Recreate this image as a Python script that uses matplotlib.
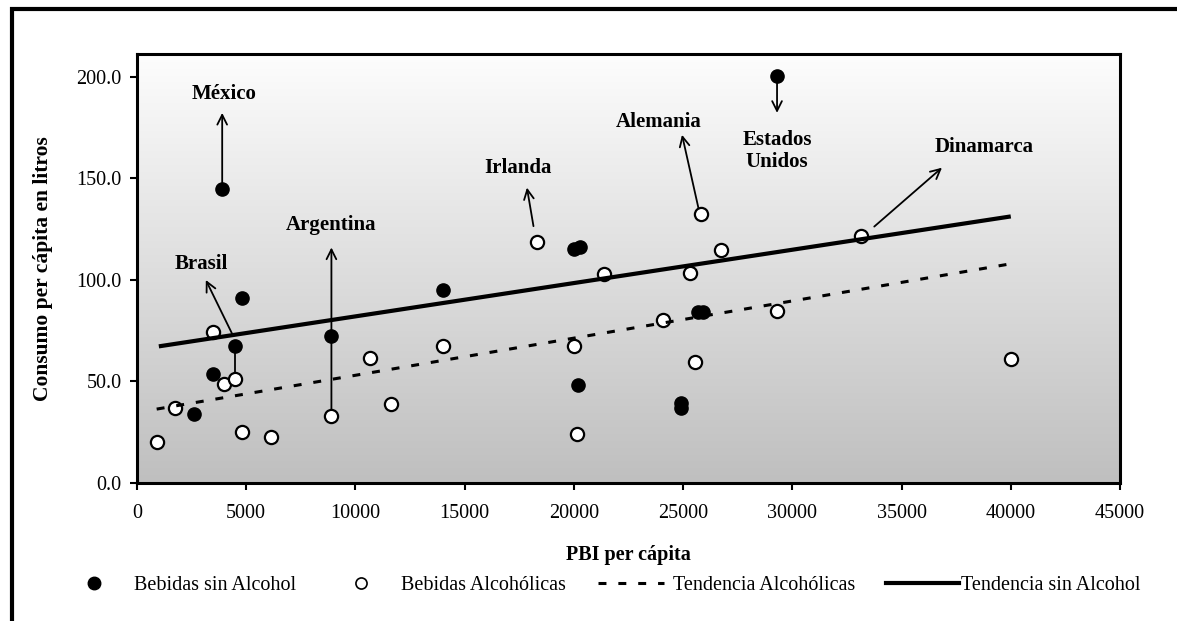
import numpy as np
import matplotlib
matplotlib.use("Agg")
import matplotlib.pyplot as plt
from matplotlib.lines import Line2D
from matplotlib.patches import Rectangle

plt.rcParams['font.family'] = ['Liberation Serif', 'DejaVu Serif']

# Bebidas sin alcohol (PBI per cápita, litros per cápita)
sin_pbi = [2600, 3500, 3900, 4500, 4800, 8900, 14000, 20000, 20300, 20200,
           24900, 24900, 25700, 25900, 29300]
sin_consumo = [34, 53.5, 145, 67.5, 91, 72.5, 95, 115.5, 116, 48.5,
               39.5, 37, 84, 84, 200.5]

# Bebidas alcohólicas
alc_pbi = [900, 1750, 3500, 4000, 4500, 4800, 6150, 8900, 10650, 11650, 14000,
           18300, 20000, 20150, 21400, 24100, 25300, 25550, 25800, 26750, 29300,
           33150, 40000]
alc_consumo = [20.3, 37, 74.4, 48.6, 51.4, 25.2, 22.7, 33.1, 61.6, 38.8, 67.3,
               118.6, 67.3, 24.1, 102.7, 80.1, 103.5, 59.6, 132.5, 114.8, 84.5,
               121.5, 61]

# tendencias lineales (extremos)
tend_sin_pbi = [1000, 40000]
tend_sin = [67.3, 131.3]
tend_alc_pbi = [900, 39800]
tend_alc = [36.4, 107.6]

# países señalados: etiqueta, posición del texto, origen y punta de la flecha
paises = ['México', 'Brasil', 'Argentina', 'Irlanda', 'Alemania',
          'Estados\nUnidos', 'Dinamarca']
texto_xy = [(4000, 191.5), (2950, 108), (8900, 127.3), (17450, 155.3),
            (23900, 178), (29300, 163.5), (38800, 165.5)]
flecha_desde = [(3900, 148), (4400, 72.5), (8900, 36), (18150, 126.5),
                (25700, 135.5), (29300, 198), (33750, 126.3)]
flecha_hasta = [(3900, 182.3), (3150, 100), (8900, 116), (17850, 145.5),
                (24950, 171.5), (29300, 182.3), (36850, 155.3)]

fig = plt.figure(figsize=(11.77, 6.21), dpi=100)
ax = fig.add_axes([137 / 1177, 138 / 621, 983 / 1177, 429 / 621])

ax.set_xlim(0, 45000)
ax.set_ylim(0, 211.3)

# fondo degradado blanco -> gris
grad = np.linspace(0, 1, 256).reshape(-1, 1)
ax.imshow(grad, extent=[0, 45000, 0, 211.3], aspect='auto', origin='upper',
          cmap=matplotlib.colors.LinearSegmentedColormap.from_list(
              'g', ['#fdfdfd', '#bfbfbf']), zorder=0)

ax.plot(alc_pbi, alc_consumo, 'o', ms=9.5, mfc='white', mec='black', mew=1.6,
        zorder=3)
ax.plot(sin_pbi, sin_consumo, 'o', ms=9.5, mfc='black', mec='black', zorder=3)

ax.plot(tend_alc_pbi, tend_alc, color='black', lw=2.2,
        linestyle=(0, (2.6, 3.9)), zorder=4)
ax.plot(tend_sin_pbi, tend_sin, color='black', lw=3, solid_capstyle='butt',
        zorder=4)

# Brasil: une los dos puntos del mismo país
ax.plot([sin_pbi[3], alc_pbi[4]], [sin_consumo[3], alc_consumo[4]],
        color='black', lw=1.3, zorder=2)

for nombre, txy, desde, hasta in zip(paises, texto_xy, flecha_desde, flecha_hasta):
    ax.annotate('', xy=hasta, xytext=desde,
                arrowprops=dict(arrowstyle='->,head_length=0.7,head_width=0.35',
                                color='black', lw=1.3, shrinkA=0, shrinkB=0),
                zorder=5)
    ax.text(txy[0], txy[1], nombre, ha='center', va='center', fontsize=15,
            fontweight='bold', linespacing=1.1)

ax.set_xticks(np.arange(0, 45001, 5000))
ax.set_yticks(np.arange(0, 201, 50))
ax.set_yticklabels([f'{v:.1f}' for v in np.arange(0, 201, 50)])
ax.tick_params(axis='both', direction='out', length=5, width=1.5,
               labelsize=14.5)
ax.tick_params(axis='x', pad=10)
ax.tick_params(axis='y', pad=6)
for s in ax.spines.values():
    s.set_linewidth(2.2)

ax.set_xlabel('PBI per cápita', fontsize=14.5, fontweight='bold', va='center')
ax.xaxis.set_label_coords(0.5, -0.168)
ax.set_ylabel('Consumo per cápita en litros', fontsize=15.5, fontweight='bold',
              va='center')
ax.yaxis.set_label_coords(-0.0956, 0.5)

# leyenda en una fila, cada entrada por separado
ley_y = 36 / 621
entradas = [
    (Line2D([], [], marker='o', ls='none', ms=9, mfc='black', mec='black'),
     'Bebidas sin Alcohol', 84, 1.0, 1.5),
    (Line2D([], [], marker='o', ls='none', ms=8, mfc='none', mec='black', mew=1.2),
     'Bebidas Alcohólicas', 351, 1.0, 1.5),
    (Line2D([], [], color='black', lw=2.2, linestyle=(0, (2.6, 3.9))),
     'Tendencia Alcohólicas', 598, 3.3, 0.4),
    (Line2D([], [], color='black', lw=3),
     'Tendencia sin Alcohol', 886, 3.6, 0.1),
]
for h, txt, x0, hl, pad in entradas:
    fig.legend([h], [txt], loc='center left', bbox_to_anchor=(x0 / 1177, ley_y),
               frameon=False, borderpad=0, borderaxespad=0, handlelength=hl,
               handletextpad=pad, fontsize=14.5)

# marco exterior
fig.patches.append(Rectangle((12 / 1177, -0.2), 1.2, 1.2 - 8.5 / 621,
                             transform=fig.transFigure, fill=False, lw=3,
                             edgecolor='black', clip_on=False))

fig.savefig('out.png', dpi=100)
